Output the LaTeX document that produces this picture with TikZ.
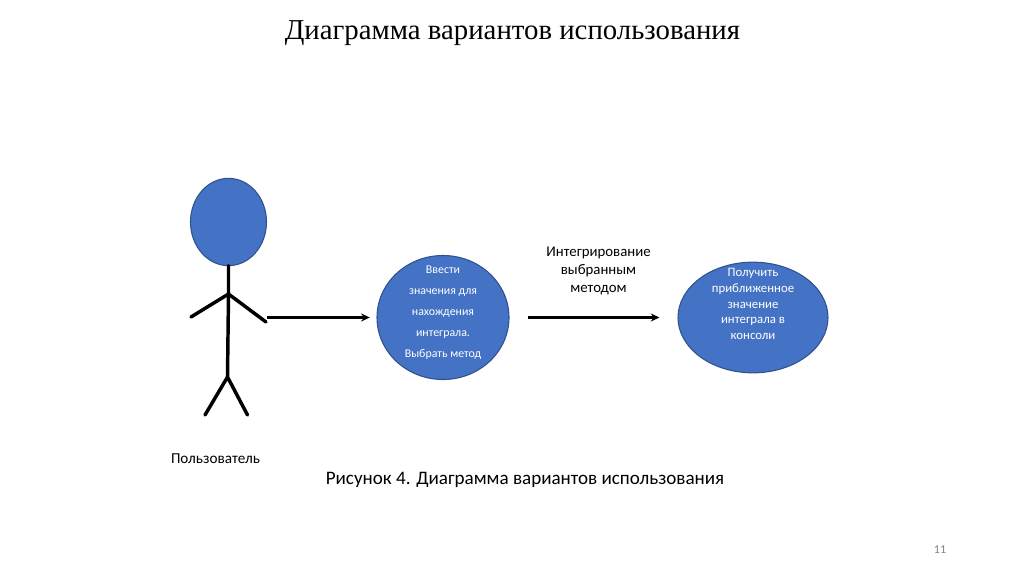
\documentclass[tikz,border=0pt]{standalone}
\usepackage{fontspec}
\setmainfont{Carlito}
\newfontfamily\titlefont{Liberation Serif}
\usetikzlibrary{
  positioning,
  arrows.meta,
  shapes.geometric
}
\definecolor{usefill}{HTML}{4472C4}
\definecolor{useline}{HTML}{2F528F}
\tikzstyle{usecase}=[ellipse, draw=useline, fill=usefill, line width=0.8pt, inner sep=0pt]
\tikzstyle{usetext}=[text=white, align=center, inner sep=0pt]
\tikzstyle{stick}=[line width=2.6pt, line cap=round]
\tikzstyle{flow}=[-{Stealth[length=6.5pt,width=6pt]}, line width=1.8pt]
\tikzstyle{caption}=[inner sep=0pt, align=center]

\begin{document}
\begin{tikzpicture}[x=0.75pt, y=-0.75pt]
    % 用紙の範囲
    \useasboundingbox (0,0) rectangle (1024,574);

    % 見出し
    \node[caption, font=\titlefont\fontsize{21.6}{26}\selectfont] (title) at (512.5,33) {Диаграмма вариантов использования};

    % 人物
    \node[usecase, minimum width=57pt, minimum height=65.5pt] (head) at (228.5,222) {};
    \coordinate (neck) at (228.5,294);
    \coordinate (hip) at (227.5,377);
    \coordinate (handL) at (191,317);
    \coordinate (handR) at (266,322);
    \coordinate (footL) at (205,415);
    \coordinate (footR) at (247.5,415);
    \draw[stick] (head) ++(0,43.5) -- (neck) -- (hip);
    \draw[stick] (handL) -- (neck) -- (handR);
    \draw[stick] (footL) -- (hip) -- (footR);
    \node[caption, font=\fontsize{11.4}{12}\selectfont] (user) at (215.5,458.5) {Пользователь};

    % 楕円
    \node[usecase, minimum width=99pt, minimum height=93pt] (input) at (443,317.5) {};
    \node[usetext, font=\fontsize{8.9}{15.8}\selectfont] (inputtext) at (443,312.5) {Ввести\\значения для\\нахождения\\интеграла.\\Выбрать метод};
    \node[usecase, minimum width=112.5pt, minimum height=83pt] (output) at (753,317.5) {};
    \node[usetext, font=\fontsize{9.6}{11.7}\selectfont] (outputtext) at (753,304) {Получить\\приближенное\\значение\\интеграла в\\консоли};

    % 矢印
    \coordinate (start) at (267,317.5);
    \draw[flow, shorten >=5pt] (start) -- (input);
    \draw[flow, shorten <=13.5pt, shorten >=13.5pt] (input) -- (output);
    \node[caption, font=\fontsize{11.1}{13.5}\selectfont] (method) at (598.5,271) {Интегрирование\\выбранным\\методом};

    % 図の説明
    \node[caption, font=\fontsize{14.3}{15}\selectfont] (figure) at (525,480) {Рисунок 4. Диаграмма вариантов использования};

    % ページ番号
    \node[caption, text=gray, font=\fontsize{9}{11}\selectfont] (page) at (940,550) {11};
\end{tikzpicture}
\end{document}
